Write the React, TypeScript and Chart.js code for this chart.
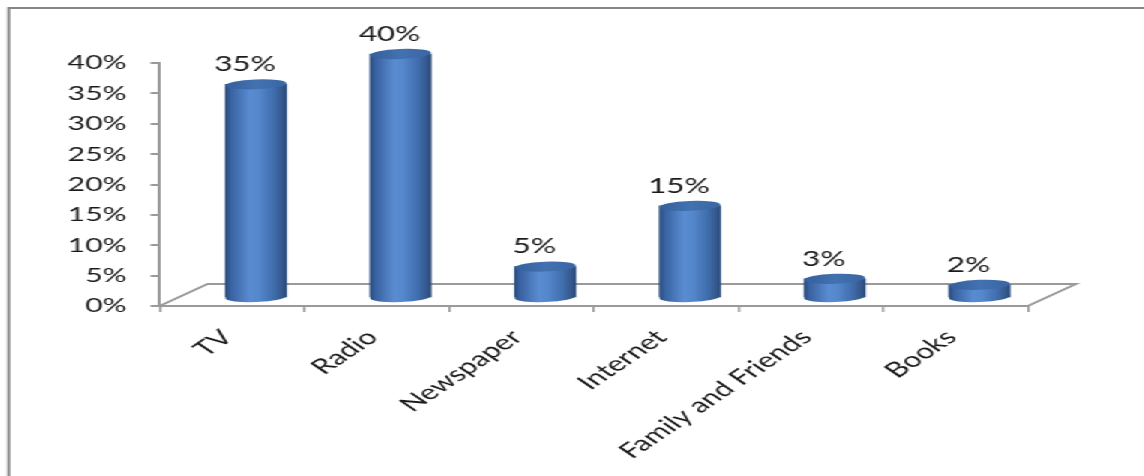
import React, { useEffect, useRef } from 'react';
import { Chart, registerables } from 'chart.js';

Chart.register(...registerables);

// ---- data ----
const categories = ['TV', 'Radio', 'Newspaper', 'Internet', 'Family and Friends', 'Books'];
const shares = [35, 40, 5, 15, 3, 2];
const valueTicks = [0, 5, 10, 15, 20, 25, 30, 35, 40];

// ---- geometry / style (local, un-stretched canvas space) ----
const STRETCH = 1.5;
const W = 763;
const H = 476;
const DEPTH_X = 32;
const DEPTH_Y = 22;
const BAR_W = 40.7;
const ELL_RY = 5;
const BASE_LIFT = 9;
const AXIS_COLOR = '#9a9a9a';
const TEXT_COLOR = '#1a1a1a';
const FONT = 'Lato, "Open Sans", sans-serif';

function bodyGradient(ctx: CanvasRenderingContext2D, cx: number, w: number) {
  const g = ctx.createLinearGradient(cx - w / 2, 0, cx + w / 2, 0);
  g.addColorStop(0, '#2a4c7c');
  g.addColorStop(0.08, '#3861a0');
  g.addColorStop(0.4, '#5a8cd2');
  g.addColorStop(0.55, '#5587cc');
  g.addColorStop(0.8, '#3f6cab');
  g.addColorStop(0.93, '#34588d');
  g.addColorStop(1, '#2a4a78');
  return g;
}

function topGradient(ctx: CanvasRenderingContext2D, cx: number, w: number) {
  const g = ctx.createLinearGradient(cx - w / 2, 0, cx + w / 2, 0);
  g.addColorStop(0, '#34609c');
  g.addColorStop(0.5, '#4372b0');
  g.addColorStop(1, '#3a66a3');
  return g;
}

const cylinderPlugin = {
  id: 'cylinder3d',
  beforeDraw(chart: any) {
    const ctx = chart.ctx;
    ctx.save();
    ctx.strokeStyle = '#878787';
    ctx.lineWidth = 2;
    ctx.beginPath();
    ctx.moveTo(5.7, 7);
    ctx.lineTo(5.7, H);
    ctx.moveTo(4.7, 8);
    ctx.lineTo(W, 8);
    ctx.stroke();
    ctx.restore();
  },
  beforeDatasetsDraw(chart: any) {
    const { ctx, chartArea } = chart;
    const { left, right, bottom } = chartArea;
    ctx.save();
    ctx.strokeStyle = AXIS_COLOR;
    ctx.lineWidth = 2;
    ctx.beginPath();
    ctx.moveTo(left, bottom);
    ctx.lineTo(left + DEPTH_X, bottom - DEPTH_Y);
    ctx.lineTo(right + DEPTH_X, bottom - DEPTH_Y);
    ctx.lineTo(right, bottom);
    ctx.stroke();
    ctx.restore();
  },
  afterDatasetsDraw(chart: any) {
    const ctx = chart.ctx;
    const meta = chart.getDatasetMeta(0);
    ctx.save();
    meta.data.forEach((el: any, i: number) => {
      const x = el.x;
      const y = el.y;
      const base = el.base;
      const w = el.width;
      // bottom cap
      ctx.beginPath();
      ctx.ellipse(x, base, w / 2, ELL_RY, -0.06, 0, Math.PI * 2);
      ctx.fillStyle = bodyGradient(ctx, x, w);
      ctx.fill();
      // top cap
      ctx.beginPath();
      ctx.ellipse(x, y, w / 2, ELL_RY, -0.06, 0, Math.PI * 2);
      ctx.fillStyle = topGradient(ctx, x, w);
      ctx.fill();
      // value label
      ctx.fillStyle = TEXT_COLOR;
      ctx.font = `21px ${FONT}`;
      ctx.textAlign = 'center';
      ctx.textBaseline = 'middle';
      ctx.fillText(`${shares[i]}%`, x - 7.3, y - 20);
    });
    ctx.restore();
  },
};

export default function App() {
  const ref = useRef<HTMLCanvasElement | null>(null);

  useEffect(() => {
    const canvas = ref.current;
    if (!canvas) return;
    const pxPerUnit = (306 - 63) / 40;
    const lift = BASE_LIFT / pxPerUnit;
    const shiftCat = DEPTH_X / 2 / ((685.3 - 106.3) / categories.length);

    const chart = new Chart(canvas, {
      type: 'bar',
      data: {
        labels: categories,
        datasets: [
          {
            data: shares.map((v, i) => ({ x: i, y: v })),
            xAxisID: 'x2',
            yAxisID: 'y2',
            barThickness: BAR_W,
            borderWidth: 0,
            clip: false as any,
            backgroundColor: (c: any) => {
              const ch = c.chart;
              const xs = ch.scales && ch.scales.x2;
              if (!ch.chartArea || !xs || c.dataIndex == null) return '#4a7bbd';
              const cx = xs.getPixelForValue(c.dataIndex);
              return bodyGradient(ch.ctx, cx, BAR_W);
            },
          } as any,
        ],
      },
      options: {
        responsive: false,
        animation: false,
        events: [],
        layout: { padding: { top: 63, right: W - 685.3, left: 0, bottom: 0 } },
        plugins: { legend: { display: false }, tooltip: { enabled: false } },
        scales: {
          x: {
            type: 'category',
            offset: true,
            position: 'bottom',
            grid: {
              offset: true,
              drawOnChartArea: false,
              drawTicks: true,
              tickLength: 6,
              color: AXIS_COLOR,
              lineWidth: 1.5,
            },
            border: { display: true, color: AXIS_COLOR, width: 2 },
            ticks: {
              autoSkip: false,
              minRotation: 45,
              maxRotation: 45,
              padding: 13,
              labelOffset: -3,
              color: TEXT_COLOR,
              font: { family: FONT, size: 21 },
            },
            afterFit: (s: any) => {
              s.height = H - 306;
            },
          },
          y: {
            type: 'linear',
            position: 'left',
            min: 0,
            max: 40,
            afterBuildTicks: (s: any) => {
              s.ticks = valueTicks.map((v) => ({ value: v }));
            },
            grid: {
              drawOnChartArea: false,
              drawTicks: true,
              tickLength: 6,
              color: AXIS_COLOR,
              lineWidth: 2,
            },
            border: { display: true, color: AXIS_COLOR, width: 2 },
            ticks: {
              padding: 16,
              color: TEXT_COLOR,
              font: { family: FONT, size: 20 },
              callback: (v: any) => `${v}%`,
            },
            afterFit: (s: any) => {
              s.width = 106.3;
            },
          },
          x2: {
            type: 'linear',
            display: false,
            offset: false,
            grace: 0,
            bounds: 'data',
            min: -0.5 - shiftCat,
            max: categories.length - 0.5 - shiftCat,
          },
          y2: {
            type: 'linear',
            display: false,
            offset: false,
            min: -lift,
            max: 40 - lift,
          },
        },
      },
      plugins: [cylinderPlugin],
    } as any);

    return () => chart.destroy();
  }, []);

  return (
    <div
      style={{
        position: 'absolute',
        left: 0,
        top: 0,
        width: W,
        height: H,
        transform: `scaleX(${STRETCH})`,
        transformOrigin: '0 0',
        background: '#ffffff',
      }}
    >
      <canvas ref={ref} width={W} height={H} style={{ display: 'block' }} />
    </div>
  );
}
